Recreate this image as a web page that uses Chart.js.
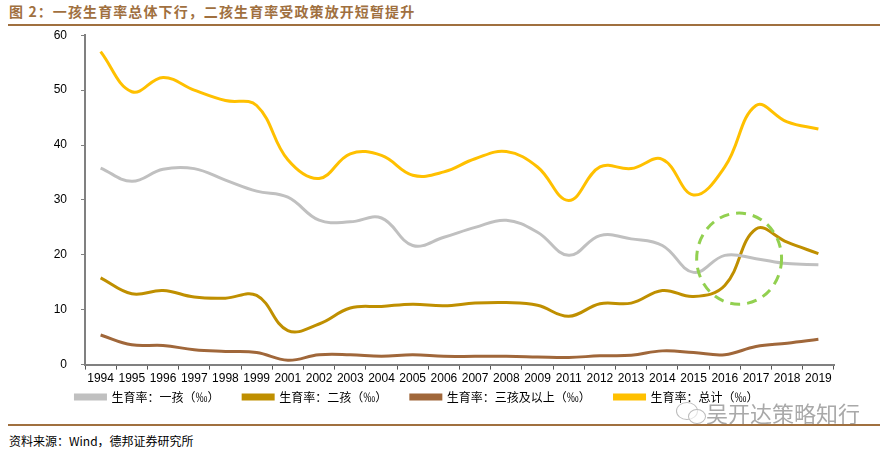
<!DOCTYPE html>
<html><head><meta charset="utf-8">
<script src="https://cdn.jsdelivr.net/npm/chart.js@4"></script>
<style>
html,body{margin:0;padding:0;background:#fff;}
#wrap{position:relative;width:889px;height:452px;overflow:hidden;font-family:"Noto Sans CJK SC",sans-serif;}
#title{position:absolute;left:9px;top:1px;font-size:14px;font-weight:bold;color:#A0703F;letter-spacing:1.1px;white-space:nowrap;}
.rule{position:absolute;left:8px;width:872px;height:2px;background:#A0703F;}
#src{position:absolute;left:9px;top:432px;font-size:12px;color:#000;white-space:nowrap;}
#wm{position:absolute;left:706px;top:396px;font-size:22px;color:#9a9a9a;opacity:0.85;white-space:nowrap;text-shadow:0 0 2px #fff;}
#wmi1{position:absolute;left:676px;top:402px;width:20px;height:16px;border:1.5px solid #bbb;border-radius:50%;background:rgba(255,255,255,0.6);}
#wmi2{position:absolute;left:688px;top:409px;width:16px;height:13px;border:1.5px solid #bbb;border-radius:50%;background:rgba(255,255,255,0.6);}
#box{position:absolute;left:0;top:14px;width:889px;height:406px;}
#cv{position:absolute;left:0;top:0;}
</style></head>
<body><div id="wrap">
<div id="title">图 2：一孩生育率总体下行，二孩生育率受政策放开短暂提升</div>
<div class="rule" style="top:24px"></div>
<div id="box"><canvas id="cv" width="889" height="406"></canvas></div>
<div id="wmi1"></div><div id="wmi2"></div>
<div id="wm">吴开达策略知行</div>
<div class="rule" style="top:424px"></div>
<div id="src">资料来源：Wind，德邦证券研究所</div>
</div>
<script>
const years = ["1994","1995","1996","1997","1998","1999","2001","2002","2003","2004","2005","2006","2007","2008","2009","2011","2012","2013","2014","2015","2016","2017","2018","2019"];
const firstChild = [35.8,33.4,35.6,35.7,33.6,31.6,30.5,26.3,26.0,26.7,21.7,23.2,25.0,26.3,24.1,19.9,23.5,22.9,21.7,16.8,19.9,19.3,18.4,18.2];
const secondChild = [15.8,12.9,13.5,12.3,12.1,12.6,6.2,7.4,10.3,10.6,11.0,10.7,11.2,11.3,10.8,8.8,11.1,11.2,13.5,12.4,14.4,24.7,22.3,20.2];
const thirdPlus = [5.4,3.6,3.5,2.7,2.4,2.2,0.8,1.8,1.8,1.5,1.8,1.5,1.5,1.5,1.4,1.3,1.6,1.7,2.5,2.2,1.8,3.3,3.9,4.6];
const total = [57.0,49.7,52.3,50.0,48.1,47.2,37.3,33.9,38.4,38.1,34.5,35.1,37.5,38.8,36.0,29.9,36.0,35.7,37.4,30.9,36.0,47.2,44.2,42.9];
const seriesNames = ["生育率：一孩（‰）","生育率：二孩（‰）","生育率：三孩及以上（‰）","生育率：总计（‰）"];
const yTicks = [0,10,20,30,40,50,60];
// highlight ellipse (annotation) in data units: center index, center value, radii
const highlight = {cx:20.46, cy:19.3, rx:1.36, ry:8.3};

const colors = ["#C0C0C0","#BF8F00","#A0673A","#FFC000"];
const dataArr = [firstChild, secondChild, thirdPlus, total];

const circlePlugin = {
  id:'circle',
  afterDatasetsDraw(chart){
    const {ctx, scales:{x,y}} = chart;
    const cx = x.getPixelForValue(highlight.cx);
    const cy = y.getPixelForValue(highlight.cy);
    const rx = x.getPixelForValue(highlight.cx + highlight.rx) - cx;
    const ry = cy - y.getPixelForValue(highlight.cy + highlight.ry);
    ctx.save();
    ctx.strokeStyle = '#92D050';
    ctx.lineWidth = 3;
    ctx.setLineDash([10,7]);
    ctx.beginPath();
    ctx.ellipse(cx, cy, rx, ry, 0, 0, Math.PI*2);
    ctx.stroke();
    ctx.restore();
  }
};

new Chart(document.getElementById('cv'), {
  type:'line',
  data:{
    labels: years,
    datasets: seriesNames.map((n,i)=>({
      label:n, data:dataArr[i], borderColor:colors[i], backgroundColor:colors[i],
      borderWidth:3, pointRadius:0, tension:0.4, fill:false
    }))
  },
  options:{
    responsive:false, animation:false,
    layout:{padding:{left:0,right:55,top:0,bottom:7}},
    plugins:{
      tooltip:{enabled:false},
      legend:{
        position:'bottom',
        labels:{boxWidth:30, boxHeight:4, padding:3, color:'#000',
          font:{family:'"Noto Sans CJK SC"', size:12},
          generateLabels(chart){
            const items = Chart.defaults.plugins.legend.labels.generateLabels(chart);
            items.forEach((it,i)=>{ if(i<items.length-1) it.text = it.text + '\u3000\u3000 '; });
            return items;
          }
        }
      }
    },
    scales:{
      x:{
        offset:true,
        grid:{offset:true, drawOnChartArea:false, drawTicks:true, tickLength:5, color:'#555', lineWidth:1},
        border:{color:'#808080', width:2},
        ticks:{autoSkip:false, maxRotation:0, minRotation:0, padding:2, color:'#000',
          font:{family:'"Liberation Sans", Arial', size:12}}
      },
      y:{
        min:0, max:60,
        afterFit(s){ s.width = 85; },
        afterBuildTicks(s){ s.ticks = yTicks.map(v=>({value:v})); },
        grid:{drawOnChartArea:false, drawTicks:true, tickLength:4, color:'#808080'},
        border:{color:'#808080', width:2},
        ticks:{padding:14, color:'#000', font:{family:'"Liberation Sans", Arial', size:12}}
      }
    }
  },
  plugins:[circlePlugin]
});
</script>
</body></html>
